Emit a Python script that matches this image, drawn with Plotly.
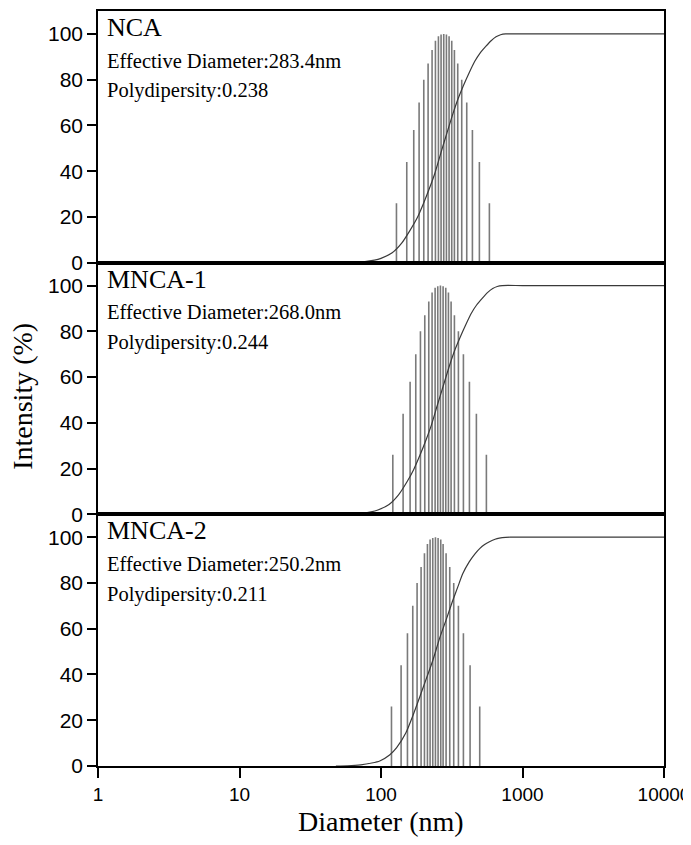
import plotly.graph_objects as go
from plotly.subplots import make_subplots

samples = ["NCA", "MNCA-1", "MNCA-2"]
eff_diam = ["283.4nm", "268.0nm", "250.2nm"]
polydisp = ["0.238", "0.244", "0.211"]

# Intensity distribution bars (diameter nm, intensity %)
bar_heights = [26, 44, 58, 70, 80, 87, 93, 97, 99, 99.7, 100, 99.7, 99, 97, 93, 87, 80, 70, 58, 44, 26]
bar_d_nca = [128.6, 152.1, 170.4, 185.9, 200.6, 215.2, 229.6, 242.5, 254.6, 265.8, 277.6,
             290.0, 302.8, 316.2, 330.2, 348.6, 372.0, 403.6, 442.6, 495.8, 583.5]
bar_d_mnca1 = [121.2, 143.3, 160.6, 176.1, 190.0, 203.9, 217.6, 229.6, 241.2, 251.9, 263.0,
               274.7, 286.9, 299.6, 312.9, 330.2, 352.4, 382.3, 421.6, 472.2, 555.7]
bar_d_mnca2 = [118.6, 138.7, 153.8, 167.7, 179.9, 192.0, 202.8, 212.9, 222.3, 232.2, 242.5,
               253.2, 264.4, 274.7, 288.4, 306.1, 326.6, 352.4, 382.3, 426.1, 498.5]

# Cumulative curves (diameter nm, cumulative %)
cum_d_nca = [50, 60, 75, 90, 100, 120, 140, 160, 180, 200, 220, 240, 265, 290, 320, 350, 380,
             420, 460, 500, 550, 600, 650, 700, 760, 1000, 10000]
cum_v_nca = [0, 0.1, 0.4, 1.1, 1.9, 4.3, 8.5, 14, 19.5, 26, 32.5, 39, 48, 56, 64.5, 71.5, 77,
             83, 88, 91.5, 94.5, 97, 98.7, 99.6, 100, 100, 100]
cum_d_mnca1 = [47, 57, 71, 85, 95, 114, 133, 152, 170, 189, 208, 227, 251, 275, 303, 331, 360,
               398, 436, 474, 521, 568, 616, 663, 720, 1000, 10000]
cum_v_mnca1 = [0, 0.1, 0.4, 1.1, 1.9, 4.3, 8.5, 14, 19.5, 26, 32.5, 39, 48, 56, 64.5, 71.5, 77,
               83, 88, 91.5, 94.5, 97, 98.7, 99.6, 100, 100, 100]
cum_d_mnca2 = [48, 58, 72, 86, 98, 115, 129, 150, 168, 190, 210, 232, 260, 289, 320, 350, 378,
               420, 460, 498, 540, 584, 640, 686, 760, 820, 1000, 10000]
cum_v_mnca2 = [0, 0.1, 0.5, 1.3, 2.2, 4.8, 8, 14.5, 22, 31, 38.5, 46, 56, 64, 72, 78.5, 84,
               89.2, 92.6, 95, 96.8, 98, 99.1, 99.6, 99.95, 100, 100, 100]

x_ticks = [1, 10, 100, 1000, 10000]
x_ticktext = ["1", "10", "100", "1000", "10000"]
y_ticks = [0, 20, 40, 60, 80, 100]

bars = [bar_d_nca, bar_d_mnca1, bar_d_mnca2]
cums = [(cum_d_nca, cum_v_nca), (cum_d_mnca1, cum_v_mnca1), (cum_d_mnca2, cum_v_mnca2)]

fig = make_subplots(rows=3, cols=1, shared_xaxes=True, vertical_spacing=0)

for i in range(3):
    xs, ys = [], []
    for d, h in zip(bars[i], bar_heights):
        xs += [d, d, None]
        ys += [0, h, None]
    fig.add_trace(go.Scatter(x=xs, y=ys, mode="lines",
                             line=dict(color="#7a7a7a", width=1.6),
                             showlegend=False, hoverinfo="skip"), row=i + 1, col=1)
    cd, cv = cums[i]
    fig.add_trace(go.Scatter(x=cd, y=cv, mode="lines",
                             line=dict(color="#3a3a3a", width=1.2, shape="spline", smoothing=0.6),
                             showlegend=False), row=i + 1, col=1)

for i in range(3):
    fig.update_xaxes(type="log", range=[0, 4], showline=True, mirror=True, linecolor="black",
                     linewidth=1.6, showgrid=False, zeroline=False,
                     tickvals=x_ticks, ticktext=x_ticktext,
                     ticks="outside" if i == 2 else "", ticklen=10, tickwidth=2, tickcolor="black",
                     showticklabels=(i == 2),
                     tickfont=dict(family="Liberation Sans, Arial", size=19, color="black"),
                     row=i + 1, col=1)
    fig.update_yaxes(range=[0, 110], showline=True, mirror=True, linecolor="black",
                     linewidth=1.6, showgrid=False, zeroline=False,
                     tickvals=y_ticks, ticks="outside", ticklen=9, tickwidth=1.5,
                     tickcolor="black",
                     tickfont=dict(family="Liberation Sans, Arial", size=21, color="black"),
                     row=i + 1, col=1)

serif = "Liberation Serif, Times New Roman, serif"
for i in range(3):
    yref = "y domain" if i == 0 else f"y{i + 1} domain"
    xref = "x domain" if i == 0 else f"x{i + 1} domain"
    fig.add_annotation(text=samples[i], xref=xref, yref=yref, x=0.012, y=0.935,
                       xanchor="left", yanchor="middle", showarrow=False,
                       font=dict(family=serif, size=26, color="black"))
    fig.add_annotation(text="Effective Diameter:" + eff_diam[i], xref=xref, yref=yref,
                       x=0.012, y=0.802, xanchor="left", yanchor="middle", showarrow=False,
                       font=dict(family=serif, size=20.5, color="black"))
    fig.add_annotation(text="Polydipersity:" + polydisp[i], xref=xref, yref=yref,
                       x=0.012, y=0.683, xanchor="left", yanchor="middle", showarrow=False,
                       font=dict(family=serif, size=20.5, color="black"))

fig.add_annotation(text="Diameter (nm)", xref="paper", yref="paper", x=0.5, y=-0.074,
                   xanchor="center", yanchor="middle", showarrow=False,
                   font=dict(family=serif, size=28, color="black"))
fig.add_annotation(text="Intensity (%)", xref="paper", yref="paper", x=-0.1325, y=0.489,
                   xanchor="center", yanchor="middle", textangle=-90, showarrow=False,
                   font=dict(family=serif, size=28, color="black"))

# page body adds an 8px margin, so the figure is sized to fit the 691x845 window
fig.update_layout(width=683, height=829, margin=dict(l=90, r=27, t=1, b=71),
                  plot_bgcolor="white", paper_bgcolor="white")

fig.write_html("out.html")
